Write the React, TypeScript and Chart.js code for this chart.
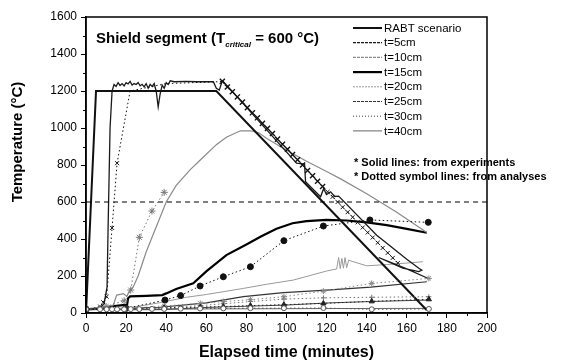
import React, { useEffect, useRef } from "react";
import { Chart, registerables } from "chart.js";

Chart.register(...registerables);

// ---- axis ranges / tick labels ----
const xTickLabels = [0, 20, 40, 60, 80, 100, 120, 140, 160, 180, 200];
const yTickLabels = [0, 200, 400, 600, 800, 1000, 1200, 1400, 1600];

// ---- legend labels ----
const legendLabels = ["RABT scenario", "t=5cm", "t=10cm", "t=15cm", "t=20cm", "t=25cm", "t=30cm", "t=40cm"];
const noteLines = ["* Solid lines: from experiments", "* Dotted symbol lines: from analyses"];

// ---- critical temperature reference ----
const refTime = [0, 200];
const refTemp = [600, 600];

// ---- RABT fire curve ----
const rabtTime = [0, 5, 65, 170];
const rabtTemp = [0, 1200, 1200, 15];

// ---- t = 5 cm ----
const t5ExpTime = [0, 7, 9, 10.5, 11, 12, 13, 14, 15, 16, 17, 18, 19, 20, 21, 22, 23, 24, 25, 26, 27, 28, 29, 30, 31, 32, 33, 34, 35, 36, 37, 38, 39, 40, 41, 42, 44, 50, 55, 60, 63.5, 65, 66.5, 68, 69, 105, 109, 109.5, 117, 118.5, 120, 122, 124, 126, 145, 160, 166, 167.5, 166, 158, 146, 160, 171];
const t5ExpTemp = [20, 25, 50, 140, 450, 1000, 1200, 1235, 1225, 1245, 1230, 1240, 1228, 1245, 1238, 1252, 1232, 1240, 1235, 1246, 1228, 1236, 1222, 1240, 1215, 1236, 1225, 1240, 1200, 1115, 1185, 1232, 1215, 1245, 1235, 1255, 1250, 1252, 1250, 1250, 1250, 1215, 1205, 1255, 1245, 810, 805, 710, 628, 672, 640, 655, 630, 632, 420, 290, 242, 232, 224, 242, 300, 238, 185];
const t5AnaTime = [0, 7, 8.6, 10.3, 13, 15.5, 22, 40, 66, 68, 70.5, 73, 75.5, 78, 80.5, 83, 85.5, 88, 90.5, 93, 95.5, 98, 100.5, 103, 105.5, 108, 110.5, 113, 115.5, 118, 120.5, 123, 125.5, 128, 130.5, 133, 135.5, 138, 140.5, 143, 145.5, 148, 150.5, 153, 155.5];
const t5AnaTemp = [20, 35, 58, 88, 460, 810, 1200, 1240, 1250, 1252, 1222, 1196, 1168, 1140, 1110, 1082, 1055, 1025, 998, 970, 940, 912, 885, 856, 828, 800, 770, 742, 712, 684, 655, 628, 600, 572, 545, 518, 490, 462, 435, 408, 380, 352, 325, 298, 270];

// ---- t = 10 cm ----
const t10ExpTime = [0, 7, 13.6, 15.3, 18.7, 20.3, 22, 23.6, 26, 30, 35, 40, 45, 52, 57, 65, 70, 77, 82, 86, 90, 100, 110, 120, 127, 140, 155, 170];
const t10ExpTemp = [20, 27, 43, 97, 105, 90, 124, 142, 200, 330, 465, 600, 690, 775, 827, 910, 950, 985, 985, 975, 945, 880, 820, 765, 725, 645, 545, 435];
const t10AnaTime = [0, 10, 19, 22.3, 26.6, 32.9, 39];
const t10AnaTemp = [22, 35, 66, 124, 409, 551, 652];

// ---- t = 15 cm ----
const t15ExpTime = [0, 8, 12, 20.5, 21, 22, 30, 38, 40, 45, 53.5, 60, 70, 80, 87, 95, 103, 110, 120, 130, 140, 150, 160, 170];
const t15ExpTemp = [20, 25, 35, 45, 80, 90, 93, 97, 106, 130, 160, 225, 313, 370, 412, 455, 485, 497, 503, 500, 490, 475, 455, 434];
const t15AnaTime = [0, 20, 39.4, 47.2, 56.9, 68.5, 82, 98.7, 118.4, 141.6, 170.7];
const t15AnaTemp = [20, 25, 70, 94, 146, 196, 250, 391, 470, 503, 490];

// ---- t = 20 cm ----
const t20ExpTime = [0, 20, 37, 50, 60, 78.5, 90, 103.4, 120, 125, 126, 126.8, 127.6, 128.4, 129.2, 130, 131, 140, 150, 160, 168];
const t20ExpTemp = [20, 25, 56, 85, 100, 133, 155, 178, 227, 238, 300, 240, 295, 242, 300, 245, 285, 255, 262, 270, 277];
const t20AnaTime = [0, 20, 39, 57, 68.5, 82, 98.7, 118.4, 142.5, 171];
const t20AnaTemp = [20, 24, 38, 52, 62, 72, 88, 118, 160, 187];

// ---- t = 25 cm ----
const t25ExpTime = [0, 37, 60, 78.5, 98.4, 120, 142, 170];
const t25ExpTemp = [20, 31, 55, 88, 110, 124, 140, 169];
const t25AnaTime = [0, 20, 39, 57, 68.5, 82, 98.7, 118.4, 142.5, 171];
const t25AnaTemp = [20, 22, 30, 40, 50, 62, 75, 82, 85, 88];

// ---- t = 30 cm ----
const t30ExpTime = [0, 37, 60, 100, 120, 142, 171];
const t30ExpTemp = [18, 18, 30, 43, 54, 62, 70];
const t30AnaTime = [0, 20, 39, 57, 68.5, 82, 98.7, 118.4, 142.5, 171];
const t30AnaTemp = [20, 24, 28, 32, 35, 40, 45, 52, 63, 74];

// ---- t = 40 cm ----
const t40ExpTime = [0, 60, 120, 170];
const t40ExpTemp = [20, 22, 24, 25];
const t40AnaTime = [0, 7, 10.3, 13, 15.5, 19, 22.3, 26.6, 32.9, 39, 47.2, 56.9, 68.5, 82, 98.7, 118.4, 142.5, 171];
const t40AnaTemp = [20, 20, 20, 20, 20, 20, 21, 21, 22, 22, 23, 24, 25, 26, 26, 27, 20, 22];

const FONT = "'Liberation Sans', Arial, Helvetica, sans-serif";

const pts = (xs: number[], ys: number[]) => xs.map((x, i) => ({ x, y: ys[i] }));

function expLine(label: string, xs: number[], ys: number[], color: string, width: number, legendDash: number[]) {
  return {
    label,
    data: pts(xs, ys),
    showLine: true,
    borderColor: color,
    backgroundColor: color,
    borderWidth: width,
    pointRadius: 0,
    pointHoverRadius: 0,
    tension: 0,
    legendDash,
    inLegend: true,
  } as any;
}

function anaLine(label: string, xs: number[], ys: number[], color: string, style: string, radius: number, filled: boolean) {
  return {
    label,
    data: pts(xs, ys),
    showLine: true,
    borderColor: color,
    backgroundColor: color,
    borderWidth: 1,
    borderDash: [1.5, 2.5],
    pointStyle: style,
    pointRadius: radius,
    pointBorderWidth: 1,
    pointBorderColor: color,
    pointBackgroundColor: filled ? color : "#fff",
    tension: 0,
    inLegend: false,
  } as any;
}

const decorPlugin = {
  id: "decor",
  afterDraw(chart: any) {
    const { ctx, chartArea: a, scales } = chart;
    const xs = scales.x;
    const ys = scales.y;
    ctx.save();
    // frame
    ctx.strokeStyle = "#000";
    ctx.lineWidth = 1.5;
    ctx.strokeRect(a.left, a.top, a.right - a.left, a.bottom - a.top);
    // minor ticks
    ctx.lineWidth = 1;
    ctx.beginPath();
    for (let i = 0; i < xTickLabels.length - 1; i++) {
      const v = (xTickLabels[i] + xTickLabels[i + 1]) / 2;
      const px = Math.round(xs.getPixelForValue(v)) + 0.5;
      ctx.moveTo(px, a.bottom);
      ctx.lineTo(px, a.bottom + 3);
    }
    for (let i = 0; i < yTickLabels.length - 1; i++) {
      const v = (yTickLabels[i] + yTickLabels[i + 1]) / 2;
      const py = Math.round(ys.getPixelForValue(v)) + 0.5;
      ctx.moveTo(a.left, py);
      ctx.lineTo(a.left - 3, py);
    }
    ctx.stroke();

    ctx.fillStyle = "#000";
    ctx.textBaseline = "alphabetic";
    ctx.textAlign = "left";
    // in-plot title with subscript
    let tx = a.left + 10;
    const ty = 43;
    ctx.font = `bold 15px ${FONT}`;
    const p1 = "Shield segment (T";
    ctx.fillText(p1, tx, ty);
    tx += ctx.measureText(p1).width;
    ctx.font = `italic bold 8px ${FONT}`;
    const sub = "critical";
    ctx.fillText(sub, tx, ty + 4);
    tx += ctx.measureText(sub).width;
    ctx.font = `bold 15px ${FONT}`;
    ctx.fillText(" = 600 \u00B0C)", tx, ty);

    // legend
    const sets = chart.data.datasets.filter((d: any) => d.inLegend);
    const lx0 = 353;
    const lx1 = 382;
    ctx.font = `11.5px ${FONT}`;
    ctx.textBaseline = "middle";
    sets.forEach((d: any, i: number) => {
      const yy = 28 + i * 14.7;
      ctx.save();
      ctx.strokeStyle = d.borderColor;
      ctx.lineWidth = d.borderWidth;
      ctx.setLineDash(d.legendDash || []);
      ctx.beginPath();
      ctx.moveTo(lx0, yy);
      ctx.lineTo(lx1, yy);
      ctx.stroke();
      ctx.restore();
      ctx.fillText(d.label, lx1 + 2, yy + 0.5);
    });

    // notes
    ctx.font = `bold 11px ${FONT}`;
    ctx.fillText(noteLines[0], 354, 163);
    ctx.fillText(noteLines[1], 354, 177);

    // axis titles
    ctx.font = `bold 16px ${FONT}`;
    ctx.textAlign = "center";
    ctx.fillText("Elapsed time (minutes)", (a.left + a.right) / 2, 353);
    ctx.save();
    ctx.font = `bold 15px ${FONT}`;
    ctx.textBaseline = "middle";
    ctx.translate(18, 142);
    ctx.rotate(-Math.PI / 2);
    ctx.fillText("Temperature (\u00B0C)", 0, 0);
    ctx.restore();
    ctx.restore();
  },
};

export default function App() {
  const ref = useRef<HTMLCanvasElement | null>(null);

  useEffect(() => {
    document.body.style.margin = "0";
    const canvas = ref.current;
    if (!canvas) return;

    const t5Ana = anaLine("t=5cm analysis", t5AnaTime, t5AnaTemp, "#111", "crossRot", 3, false);
    t5Ana.pointRadius = (c: any) => {
      const p = c.raw;
      if (!p) return 3;
      if (p.y > 1190 && p.x < 67) return 0;
      return p.x >= 67 && p.x <= 118 ? 3.6 : 2.8;
    };
    t5Ana.pointBorderWidth = (c: any) => {
      const p = c.raw;
      return p && p.x >= 67 && p.x <= 118 ? 1.4 : 1;
    };

    const datasets: any[] = [
      {
        label: "Tcritical",
        data: pts(refTime, refTemp),
        showLine: true,
        borderColor: "#000",
        borderWidth: 1,
        borderDash: [5, 4],
        pointRadius: 0,
        inLegend: false,
      },
      anaLine("t=40cm analysis", t40AnaTime, t40AnaTemp, "#555", "circle", 2.5, false),
      anaLine("t=30cm analysis", t30AnaTime, t30AnaTemp, "#222", "triangle", 3, true),
      anaLine("t=25cm analysis", t25AnaTime, t25AnaTemp, "#777", "cross", 2.5, false),
      anaLine("t=20cm analysis", t20AnaTime, t20AnaTemp, "#888", "star", 3, false),
      anaLine("t=15cm analysis", t15AnaTime, t15AnaTemp, "#111", "circle", 3, true),
      anaLine("t=10cm analysis", t10AnaTime, t10AnaTemp, "#777", "star", 3.5, false),
      t5Ana,
      expLine(legendLabels[0], rabtTime, rabtTemp, "#111", 2, []),
      expLine(legendLabels[1], t5ExpTime, t5ExpTemp, "#1a1a1a", 1.3, [3, 1]),
      expLine(legendLabels[2], t10ExpTime, t10ExpTemp, "#8a8a8a", 1.2, [3, 1]),
      expLine(legendLabels[3], t15ExpTime, t15ExpTemp, "#000", 2.2, []),
      expLine(legendLabels[4], t20ExpTime, t20ExpTemp, "#999", 1, [2, 1]),
      expLine(legendLabels[5], t25ExpTime, t25ExpTemp, "#333", 1.2, [3, 1]),
      expLine(legendLabels[6], t30ExpTime, t30ExpTemp, "#444", 1, [1, 2]),
      expLine(legendLabels[7], t40ExpTime, t40ExpTemp, "#666", 1, []),
    ];

    const chart = new Chart(canvas, {
      type: "scatter",
      data: { datasets },
      options: {
        animation: false,
        responsive: false,
        maintainAspectRatio: false,
        layout: { padding: { left: 0, top: 17, right: 80, bottom: 0 } },
        plugins: {
          legend: { display: false },
          tooltip: { enabled: false },
          title: { display: false },
        },
        scales: {
          x: {
            type: "linear",
            min: xTickLabels[0],
            max: xTickLabels[xTickLabels.length - 1],
            afterFit: (s: any) => {
              s.height = 51;
            },
            afterBuildTicks: (s: any) => {
              s.ticks = xTickLabels.map((v) => ({ value: v }));
            },
            ticks: {
              color: "#000",
              font: { family: FONT, size: 12 },
              padding: 3,
              maxRotation: 0,
              callback: (v: any) => String(v),
            },
            grid: { display: true, drawOnChartArea: false, drawTicks: true, tickLength: 5, color: "#000", lineWidth: 1 },
            border: { display: true, color: "#000", width: 1.5 },
          },
          y: {
            type: "linear",
            min: yTickLabels[0],
            max: yTickLabels[yTickLabels.length - 1],
            afterFit: (s: any) => {
              s.width = 86;
            },
            afterBuildTicks: (s: any) => {
              s.ticks = yTickLabels.map((v) => ({ value: v }));
            },
            ticks: {
              color: "#000",
              font: { family: FONT, size: 12 },
              padding: 4,
              callback: (v: any) => String(v),
            },
            grid: { display: true, drawOnChartArea: false, drawTicks: true, tickLength: 5, color: "#000", lineWidth: 1 },
            border: { display: true, color: "#000", width: 1.5 },
          },
        },
      },
      plugins: [decorPlugin],
    } as any);

    return () => chart.destroy();
  }, []);

  return (
    <div style={{ position: "relative", width: 567, height: 364, background: "#fff" }}>
      <canvas ref={ref} width={567} height={364} style={{ display: "block", width: 567, height: 364 }} />
    </div>
  );
}
